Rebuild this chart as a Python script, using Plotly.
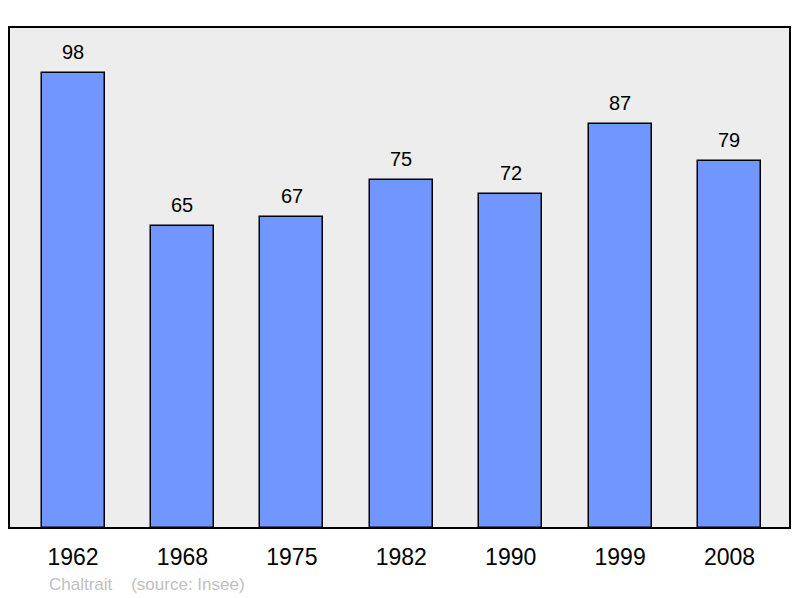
import plotly.graph_objects as go

# population by census year
years = ["1962", "1968", "1975", "1982", "1990", "1999", "2008"]
population = [98, 65, 67, 75, 72, 87, 79]

positions = list(range(len(years)))

fig = go.Figure()

fig.add_trace(go.Bar(
    x=positions,
    y=population,
    width=0.576,
    marker=dict(color="#7096ff", line=dict(color="#000000", width=1.5)),
    hoverinfo="x+y",
    showlegend=False,
))

# value labels above the bars
for xpos, val in zip(positions, population):
    fig.add_annotation(
        x=xpos, y=val, text=str(val),
        showarrow=False, yanchor="bottom", yshift=8,
        font=dict(size=20, color="#000000"),
    )

# source line under the chart
fig.add_annotation(
    text="Chaltrait&nbsp;&nbsp;&nbsp;&nbsp;(source: Insee)",
    xref="paper", yref="paper", x=0.049, y=-0.112,
    xanchor="left", yanchor="middle", showarrow=False,
    font=dict(size=17, color="#c0c0c0"),
)

# frame around the plot area
fig.add_shape(
    type="rect", xref="paper", yref="paper", x0=0, y0=0, x1=1, y1=1,
    line=dict(color="#000000", width=2),
)

fig.update_layout(
    width=800, height=598,
    margin=dict(l=9, r=10, t=27, b=70),
    paper_bgcolor="#ffffff",
    plot_bgcolor="#ededed",
    font=dict(family="Liberation Sans, Arial, sans-serif", color="#000000"),
    bargap=0,
)

fig.update_xaxes(
    range=[-0.585, 6.553],
    tickvals=positions, ticktext=years,
    tickfont=dict(size=23),
    ticks="outside", ticklen=8, tickcolor="rgba(0,0,0,0)",
    showgrid=False, zeroline=False, fixedrange=True,
)
fig.update_yaxes(
    range=[0, 107.9],
    showticklabels=False, showgrid=False, zeroline=False, fixedrange=True,
)

fig.write_html(
    "out.html",
    config={"displayModeBar": False},
    post_script="document.body.style.margin='0';",
)
